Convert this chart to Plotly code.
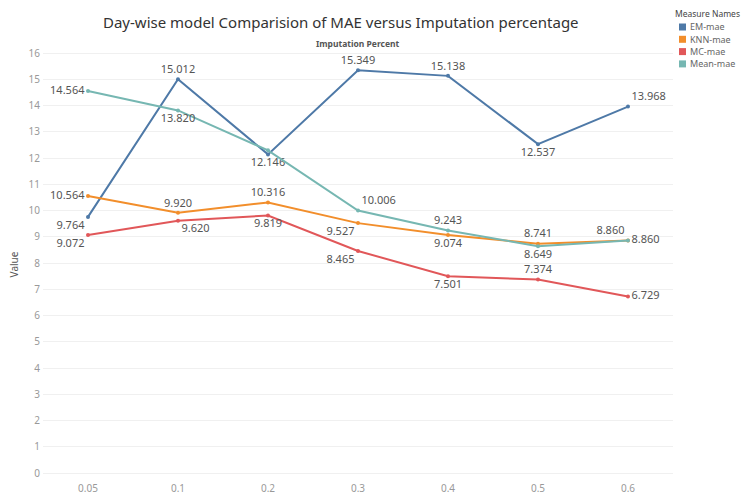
import plotly.graph_objects as go

categories = ["0.05", "0.1", "0.2", "0.3", "0.4", "0.5", "0.6"]
em_mae = [9.764, 15.012, 12.146, 15.349, 15.138, 12.537, 13.968]
knn_mae = [10.564, 9.920, 10.316, 9.527, 9.074, 8.741, 8.860]
mc_mae = [9.072, 9.620, 9.819, 8.465, 7.501, 7.374, 6.729]
mean_mae = [14.564, 13.820, 12.300, 10.006, 9.243, 8.649, 8.860]
y_ticks = list(range(0, 17))

series = [
    ("EM-mae", em_mae, "#4e79a7",
     ["bottom left", "top center", "bottom center", "top center", "top center", "bottom center", "top right"],
     [True] * 7),
    ("KNN-mae", knn_mae, "#f28e2b",
     ["middle left", "top center", "top center", "bottom left", "bottom center", "top center", "top left"],
     [True] * 7),
    ("MC-mae", mc_mae, "#e15759",
     ["bottom left", "bottom right", "bottom center", "bottom left", "bottom center", "top center", "middle right"],
     [True] * 7),
    ("Mean-mae", mean_mae, "#76b7b2",
     ["middle left", "bottom center", "bottom center", "top right", "top center", "bottom center", "middle right"],
     [True, True, False, True, True, True, True]),
]

FONT = "Noto Sans"
W, H = 741, 499
ML, MR, MT, MB = 43, 68, 48, 18
PW, PH = W - ML - MR, H - MT - MB

fig = go.Figure()
for name, vals, color, pos, show in series:
    fig.add_trace(go.Scatter(
        x=categories, y=vals, mode="lines+markers+text", name=name,
        line=dict(color=color, width=2), marker=dict(color=color, size=4),
        text=[f"{v:.3f}" if s else "" for v, s in zip(vals, show)],
        textposition=pos, textfont=dict(family=FONT, size=11, color="#555555"),
        showlegend=False, hoverinfo="skip", cliponaxis=False,
    ))

def px_x(px):
    return (px - ML) / PW

def px_y(py):
    return (H - MB - py) / PH

# manual legend (Tableau style)
fig.add_annotation(text="Measure Names", xref="paper", yref="paper",
                   x=px_x(673), y=px_y(13.5), xanchor="left", yanchor="middle",
                   showarrow=False, font=dict(family=FONT, size=8.5, color="#444444"))
for i, (name, vals, color, pos, show) in enumerate(series):
    cy = 27 + i * 12.3
    fig.add_shape(type="rect", xref="paper", yref="paper",
                  x0=px_x(679), x1=px_x(686), y0=px_y(cy + 3.5), y1=px_y(cy - 3.5),
                  fillcolor=color, line=dict(width=0))
    fig.add_annotation(text=name, xref="paper", yref="paper",
                       x=px_x(688), y=px_y(cy), xanchor="left", yanchor="middle",
                       showarrow=False, font=dict(family=FONT, size=9, color="#666666"))

fig.add_annotation(text="Day-wise model Comparision of MAE versus Imputation percentage",
                   xref="paper", yref="paper", x=px_x(341), y=px_y(22),
                   xanchor="center", yanchor="middle", showarrow=False,
                   font=dict(family=FONT, size=15, color="#333333"))
fig.add_annotation(text="<b>Imputation Percent</b>", xref="paper", yref="paper",
                   x=px_x(358), y=px_y(43), xanchor="center", yanchor="middle", showarrow=False,
                   font=dict(family=FONT, size=8.5, color="#555555"))

fig.update_layout(
    width=W, height=H,
    margin=dict(l=ML, r=MR, t=MT, b=MB, autoexpand=False),
    paper_bgcolor="white", plot_bgcolor="white",
    font=dict(family=FONT, color="#555555"),
    showlegend=False,
)
fig.update_xaxes(type="category", range=[-0.5, 6.5], showgrid=False, zeroline=False,
                 showline=False, tickfont=dict(size=10, color="#999999"), ticks="", title=None)
fig.update_yaxes(range=[-0.3, 16.2], tickvals=y_ticks, showgrid=True, gridcolor="#f0f0f0",
                 zeroline=False, showline=False, tickfont=dict(size=10, color="#999999"),
                 ticklabelstandoff=2,
                 title=dict(text="Value", font=dict(size=10, color="#555555"), standoff=8))
fig.write_html("out.html")
